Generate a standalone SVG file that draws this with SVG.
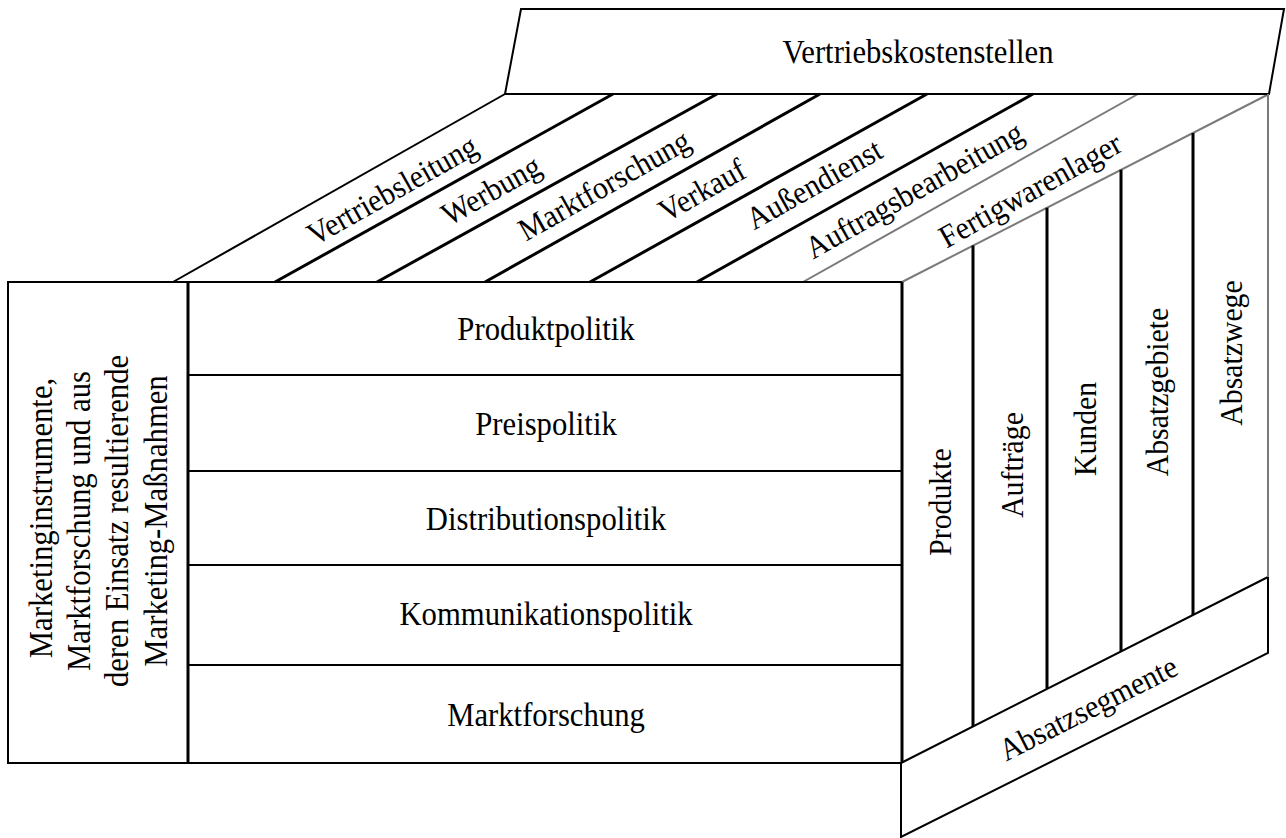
<svg xmlns="http://www.w3.org/2000/svg" width="1286" height="838" viewBox="0 0 1286 838">
<style>
.t{font-family:"Liberation Serif","Times New Roman",serif;font-size:33px;fill:#000;text-anchor:middle;dominant-baseline:central}
.s{font-size:32px}
.face{fill:#fff;stroke:none}
.box{fill:#fff;stroke:#000;stroke-width:2}
.ln{stroke:#000;stroke-width:2;fill:none}
.tk{stroke:#000;stroke-width:3;fill:none}
.gr{stroke:#7a7a7a;stroke-width:2;fill:none}
</style>
<rect width="1286" height="838" fill="#fff"/>
<g id="vertriebskostenstellen">
<polygon class="box" points="521,9 1284,9 1269,94 505,94"/>
<text class="t" transform="translate(918,52) scale(0.93,1)">Vertriebskostenstellen</text>
</g>
<g id="vertriebsleitung">
<polygon class="face" points="173,282 505,94 613,94 275,282"/>
<text class="t s" transform="translate(392,190) rotate(-29.5) scale(0.93,1)">Vertriebsleitung</text>
</g>
<g id="werbung">
<polygon class="face" points="275,282 613,94 717,94 377,282"/>
<text class="t s" transform="translate(491,190) rotate(-29.5) scale(0.93,1)">Werbung</text>
</g>
<g id="marktforschung-kst">
<polygon class="face" points="377,282 717,94 820,94 485,282"/>
<text class="t s" transform="translate(604,185) rotate(-29.5) scale(0.93,1)">Marktforschung</text>
</g>
<g id="verkauf">
<polygon class="face" points="485,282 820,94 927,94 590,282"/>
<text class="t s" transform="translate(702,190) rotate(-29.5) scale(0.93,1)">Verkauf</text>
</g>
<g id="aussendienst">
<polygon class="face" points="590,282 927,94 1033,94 697,282"/>
<text class="t s" transform="translate(814,184) rotate(-29.5) scale(0.93,1)">Außendienst</text>
</g>
<g id="auftragsbearbeitung">
<polygon class="face" points="697,282 1033,94 1138,94 803,282"/>
<text class="t s" transform="translate(914,190) rotate(-29.5) scale(0.93,1)">Auftragsbearbeitung</text>
</g>
<g id="fertigwarenlager">
<polygon class="face" points="803,282 1138,94 1269,94 902,282"/>
<text class="t s" transform="translate(1030,190) rotate(-29) scale(0.93,1)">Fertigwarenlager</text>
</g>
<g id="marketing-massnahmen">
<rect class="box" x="8" y="282" width="180" height="481"/>
<text class="t" transform="translate(41,518) rotate(-90) scale(0.93,1)">Marketinginstrumente,</text>
<text class="t" transform="translate(79,521) rotate(-90) scale(0.93,1)">Marktforschung und aus</text>
<text class="t" transform="translate(117,521) rotate(-90) scale(0.93,1)">deren Einsatz resultierende</text>
<text class="t" transform="translate(156,521) rotate(-90) scale(0.93,1)">Marketing-Maßnahmen</text>
</g>
<g id="produktpolitik">
<rect class="box" x="188" y="282" width="714" height="93"/>
<text class="t" transform="translate(546,329) scale(0.93,1)">Produktpolitik</text>
</g>
<g id="preispolitik">
<rect class="box" x="188" y="375" width="714" height="96"/>
<text class="t" transform="translate(546,424) scale(0.93,1)">Preispolitik</text>
</g>
<g id="distributionspolitik">
<rect class="box" x="188" y="471" width="714" height="94"/>
<text class="t" transform="translate(546,519) scale(0.93,1)">Distributionspolitik</text>
</g>
<g id="kommunikationspolitik">
<rect class="box" x="188" y="565" width="714" height="100"/>
<text class="t" transform="translate(546,614) scale(0.93,1)">Kommunikationspolitik</text>
</g>
<g id="marktforschung">
<rect class="box" x="188" y="665" width="714" height="98"/>
<text class="t" transform="translate(546,715) scale(0.93,1)">Marktforschung</text>
</g>
<g id="produkte">
<polygon class="face" points="902,282 973,245.6 973,726 902,762"/>
<text class="t s" transform="translate(940,502) rotate(-90) scale(0.93,1)">Produkte</text>
</g>
<g id="auftraege">
<polygon class="face" points="973,245.6 1047,207.7 1047,688.7 973,726"/>
<text class="t s" transform="translate(1012,465) rotate(-90) scale(0.93,1)">Aufträge</text>
</g>
<g id="kunden">
<polygon class="face" points="1047,207.7 1121,169.8 1121,651.3 1047,688.7"/>
<text class="t s" transform="translate(1085,429) rotate(-90) scale(0.93,1)">Kunden</text>
</g>
<g id="absatzgebiete">
<polygon class="face" points="1121,169.8 1193,132.9 1193,614.9 1121,651.3"/>
<text class="t s" transform="translate(1157,392) rotate(-90) scale(0.93,1)">Absatzgebiete</text>
</g>
<g id="absatzwege">
<polygon class="face" points="1193,132.9 1268,94.5 1268,577 1193,614.9"/>
<text class="t s" transform="translate(1231,353) rotate(-90) scale(0.93,1)">Absatzwege</text>
</g>
<g id="absatzsegmente">
<polygon class="box" points="901,763 1268,577 1268,653 901,837"/>
<text class="t s" transform="translate(1088,708) rotate(-26.8) scale(0.93,1)">Absatzsegmente</text>
</g>
<g id="lines">
<line class="ln" x1="173" y1="282" x2="505" y2="94"/>
<line class="tk" x1="275" y1="282" x2="613" y2="94"/>
<line class="tk" x1="377" y1="282" x2="717" y2="94"/>
<line class="tk" x1="485" y1="282" x2="820" y2="94"/>
<line class="tk" x1="590" y1="282" x2="927" y2="94"/>
<line class="tk" x1="697" y1="282" x2="1033" y2="94"/>
<line class="gr" x1="803" y1="282" x2="1138" y2="94"/>
<line class="gr" x1="902" y1="282" x2="1269" y2="94"/>
<line class="ln" x1="505" y1="94" x2="1269" y2="94"/>
<line class="ln" x1="8" y1="282" x2="902" y2="282"/>
<line class="tk" x1="188" y1="282" x2="188" y2="763"/>
<line class="tk" x1="902" y1="282" x2="902" y2="763"/>
<line class="tk" x1="973" y1="245.6" x2="973" y2="726"/>
<line class="tk" x1="1047" y1="207.7" x2="1047" y2="688.7"/>
<line class="tk" x1="1121" y1="169.8" x2="1121" y2="651.3"/>
<line class="tk" x1="1193" y1="132.9" x2="1193" y2="614.9"/>
<line class="gr" x1="1268" y1="94" x2="1268" y2="577"/>
</g>
</svg>
